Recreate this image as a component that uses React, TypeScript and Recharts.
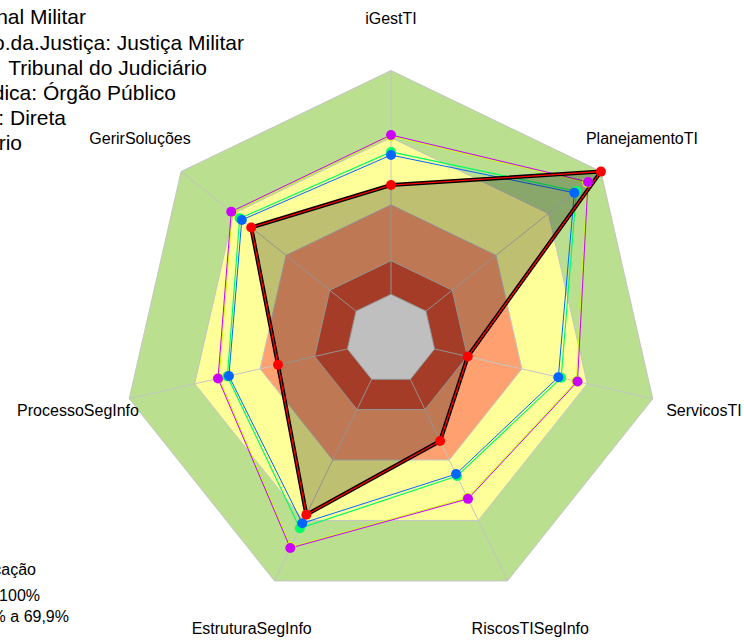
import React from "react";
import { RadarChart, Radar, PolarGrid, PolarAngleAxis, PolarRadiusAxis } from "recharts";

const categories = [
  "iGestTI",
  "PlanejamentoTI",
  "ServicosTI",
  "RiscosTISegInfo",
  "EstruturaSegInfo",
  "ProcessoSegInfo",
  "GerirSoluções",
];

// band levels (percent)
const bandGreen = [100, 100, 100, 100, 100, 100, 100];
const bandYellow = [70, 70, 70, 70, 70, 70, 70];
const bandOrange = [40, 40, 40, 40, 40, 40, 40];
const bandRed = [15, 15, 15, 15, 15, 15, 15];
const bandWhite = [0, 0, 0, 0, 0, 0, 0];

// series values (percent)
const serieRed = [48.8, 100, 15.2, 30.6, 67.2, 31.8, 59.9];
const serieBlue = [62.2, 84.8, 56.7, 47.0, 71.4, 54.3, 65.3];
const serieGreen = [63.6, 86.0, 58.0, 48.0, 73.9, 55.0, 66.5];
const serieMagenta = [71.2, 92.6, 65.5, 59.3, 83.7, 59.3, 71.3];
const serieYellowGreen = [70.7, 92.1, 65.0, 58.8, 83.2, 58.8, 70.8];

const legendTop = [
  "Órgão: Superior Tribunal Militar",
  "Segmento.da.Justiça: Justiça Militar",
  "Tipo.de.Órgão:\u00A0 Tribunal do Judiciário",
  "Natureza.Jurídica: Órgão Público",
  "Administração: Direta",
  "Poder: Judiciário",
];
const legendBottom = ["Classificação", "Aprimorado: 70% a 100%", "Intermediário: 40% a 69,9%"];

const rows = categories.map((c, i) => ({
  axis: c,
  g: bandGreen[i],
  y: bandYellow[i],
  o: bandOrange[i],
  r: bandRed[i],
  w: bandWhite[i],
  red: serieRed[i],
  blue: serieBlue[i],
  green: serieGreen[i],
  magenta: serieMagenta[i],
  yg: serieYellowGreen[i],
}));

const W = 744;
const H = 641;
const CX = 391;
const CY = 339;
const R = 268.5;
const LABEL_R = 321;
const FONT = "'Liberation Sans', Arial, sans-serif";

const AngleTick = (props: any) => {
  const { x, y, payload } = props;
  const dx = x - CX;
  const dy = y - CY;
  const len = Math.hypot(dx, dy) || 1;
  const px = CX + (dx / len) * LABEL_R;
  const py = CY + (dy / len) * LABEL_R;
  return (
    <text x={px} y={py} textAnchor="middle" dominantBaseline="central" fontSize={16} fontFamily={FONT} fill="#000">
      {payload.value}
    </text>
  );
};

const bandStroke = "#C4C4C4";

const dotOf = (color: string) => ({ r: 5, fill: color, fillOpacity: 1, stroke: "none", strokeWidth: 0 });

export default function App() {
  const topEnds = [86, 244, 207, 176, 66, 22];
  const topBase = [24, 49.5, 74.5, 100, 125, 150];
  const botEnds = [36, 40, 69];
  const botBase = [575, 601, 622];
  return (
    <div style={{ position: "absolute", left: 0, top: 0, width: W, height: H, background: "#fff" }}>
      <RadarChart
        width={W}
        height={H}
        data={rows}
        cx={CX}
        cy={CY}
        innerRadius={R / 6}
        outerRadius={R}
        startAngle={90}
        endAngle={-270}
        margin={{ top: 0, right: 0, bottom: 0, left: 0 }}
      >
        <PolarRadiusAxis domain={[0, 100]} tick={false} axisLine={false} />
        <PolarAngleAxis dataKey="axis" tick={<AngleTick />} axisLine={false} tickLine={false} />
        <Radar dataKey="g" fill="#B9DF8F" fillOpacity={1} stroke={bandStroke} strokeWidth={1} dot={false} isAnimationActive={false} zIndex={10} />
        <Radar dataKey="y" fill="#FFFF99" fillOpacity={1} stroke={bandStroke} strokeWidth={1} dot={false} isAnimationActive={false} zIndex={11} />
        <Radar dataKey="o" fill="#FFA070" fillOpacity={1} stroke={bandStroke} strokeWidth={1} dot={false} isAnimationActive={false} zIndex={12} />
        <Radar dataKey="r" fill="#DD5035" fillOpacity={1} stroke={bandStroke} strokeWidth={1} dot={false} isAnimationActive={false} zIndex={13} />
        <Radar dataKey="w" fill="#FFFFFF" fillOpacity={1} stroke={bandStroke} strokeWidth={1} dot={false} isAnimationActive={false} zIndex={14} />
        <PolarGrid gridType="polygon" polarRadius={[]} stroke={bandStroke} zIndex={20} />
        <Radar dataKey="yg" fill="none" fillOpacity={0} stroke="#CCFF00" strokeWidth={1} dot={dotOf("#CCFF00")} isAnimationActive={false} zIndex={30} />
        <Radar dataKey="magenta" fill="none" fillOpacity={0} stroke="#CC00FF" strokeWidth={1} dot={dotOf("#CC00FF")} isAnimationActive={false} zIndex={31} />
        <Radar dataKey="green" fill="none" fillOpacity={0} stroke="#00FF66" strokeWidth={1.2} dot={dotOf("#00FF66")} isAnimationActive={false} zIndex={32} />
        <Radar dataKey="blue" fill="none" fillOpacity={0} stroke="#0066FF" strokeWidth={1} dot={dotOf("#0066FF")} isAnimationActive={false} zIndex={33} />
        <Radar dataKey="red" fill="#000000" fillOpacity={0.25} stroke="#000000" strokeWidth={4} dot={false} isAnimationActive={false} zIndex={34} />
        <Radar dataKey="red" fill="none" fillOpacity={0} stroke="#FF0000" strokeWidth={1.3} dot={dotOf("#FF0000")} isAnimationActive={false} zIndex={35} />
      </RadarChart>
      <svg width={W} height={H} style={{ position: "absolute", left: 0, top: 0, pointerEvents: "none" }}>
        {legendTop.map((t, i) => (
          <text key={"t" + i} x={topEnds[i]} y={topBase[i]} textAnchor="end" fontSize={21} fontFamily={FONT} fill="#000">
            {t}
          </text>
        ))}
        {legendBottom.map((t, i) => (
          <text key={"b" + i} x={botEnds[i]} y={botBase[i]} textAnchor="end" fontSize={16} fontFamily={FONT} fill="#000">
            {t}
          </text>
        ))}
      </svg>
    </div>
  );
}
